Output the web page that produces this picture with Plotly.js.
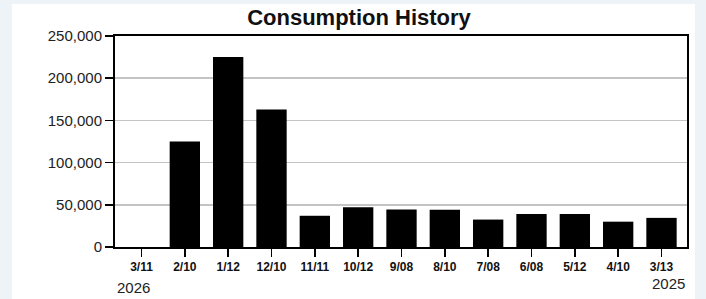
<!DOCTYPE html>
<html>
<head>
<meta charset="utf-8">
<script src="https://cdn.plot.ly/plotly-3.0.1.min.js"></script>
<style>
  html, body { margin: 0; padding: 0; background: #eef3f7; width: 706px; height: 299px; overflow: hidden; }
  #chart { position: absolute; left: 12px; top: 4px; width: 683px; height: 295px; }
</style>
</head>
<body>
<div id="chart"></div>
<script>
const categories = ["3/11", "2/10", "1/12", "12/10", "11/11", "10/12", "9/08", "8/10", "7/08", "6/08", "5/12", "4/10", "3/13"];
const consumption = [0, 125000, 225000, 163000, 37000, 47000, 44500, 44000, 32500, 39000, 39000, 30000, 34500];
const yTicks = [0, 50000, 100000, 150000, 200000, 250000];
const startYear = "2026";
const endYear = "2025";

const trace = {
  type: "bar",
  x: categories,
  y: consumption,
  marker: { color: "#000000", line: { width: 0 } },
  hoverinfo: "x+y"
};

const layout = {
  width: 683,
  height: 295,
  margin: { l: 103, r: 8, t: 32, b: 52 },
  paper_bgcolor: "#ffffff",
  plot_bgcolor: "#ffffff",
  bargap: 0.3,
  showlegend: false,
  title: {
    text: "<b>Consumption History</b>",
    font: { family: "Liberation Sans, Arial, sans-serif", size: 22, color: "#111111" },
    x: 0.508, xref: "container", xanchor: "center",
    y: 1, yref: "container", yanchor: "top", pad: { t: 6 }
  },
  xaxis: {
    type: "category",
    tickmode: "array",
    tickvals: categories,
    ticktext: categories.map(c => "<b>" + c + "</b>"),
    tickfont: { family: "Liberation Sans, Arial, sans-serif", size: 12, color: "#111111" },
    ticks: "outside", ticklen: 8, tickwidth: 1.5, tickcolor: "#000000",
    showline: true, linecolor: "#000000", linewidth: 2, mirror: true,
    showgrid: false, zeroline: false, fixedrange: true
  },
  yaxis: {
    range: [0, 250000],
    tickmode: "array",
    tickvals: yTicks,
    ticktext: yTicks.map(v => v.toLocaleString("en-US")),
    tickfont: { family: "Liberation Sans, Arial, sans-serif", size: 15, color: "#222222" },
    ticks: "outside", ticklen: 8, tickwidth: 1.5, tickcolor: "#000000",
    showline: true, linecolor: "#000000", linewidth: 2, mirror: true,
    showgrid: true, gridcolor: "#c4c4c4", gridwidth: 1.5,
    zeroline: false, fixedrange: true
  },
  annotations: [
    { text: startYear, xref: "x", x: categories[0], yref: "paper", y: 0, yanchor: "middle",
      xanchor: "center", xshift: -8, yshift: -40, showarrow: false,
      font: { family: "Liberation Sans, Arial, sans-serif", size: 15, color: "#222222" } },
    { text: endYear, xref: "x", x: categories[categories.length - 1], yref: "paper", y: 0, yanchor: "middle",
      xanchor: "center", xshift: 7, yshift: -36, showarrow: false,
      font: { family: "Liberation Sans, Arial, sans-serif", size: 15, color: "#222222" } }
  ]
};

Plotly.newPlot("chart", [trace], layout, { displayModeBar: false, staticPlot: true });
</script>
</body>
</html>
